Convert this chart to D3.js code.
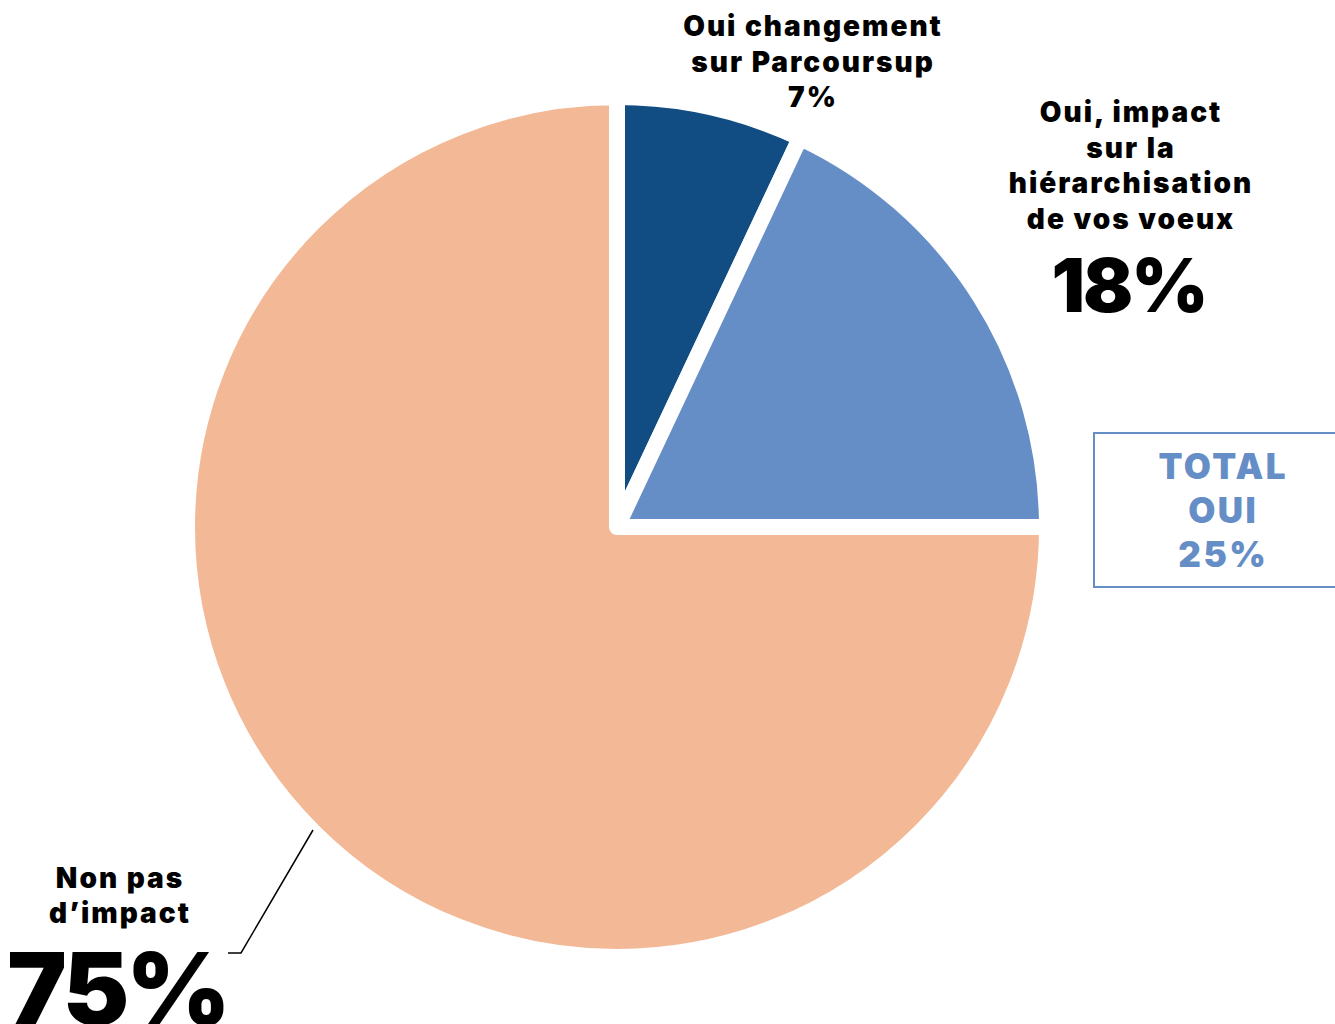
<!DOCTYPE html>
<html>
<head>
<meta charset="utf-8">
<script src="https://cdn.jsdelivr.net/npm/d3@7"></script>
<style>
  body { margin: 0; background: #fff; }
  svg { display: block; }
  text { font-family: Inter, "Noto Sans", sans-serif; font-weight: 900; }
</style>
</head>
<body>
<svg id="chart" width="1335" height="1024"></svg>
<script>
// slices, clockwise from 12 o'clock
var categories = ["Oui changement sur Parcoursup", "Oui, impact sur la hiérarchisation de vos voeux", "Non pas d'impact"]
var values = [7, 18, 75]
var colors = ["#114D82", "#668EC6", "#F3B895"]
var totalOui = 25

var width = 1335, height = 1024
var cx = 617, cy = 527, radius = 430

var svg = d3.select("#chart")

var pie = d3.pie().sort(null).value(function (d) { return d })
var arc = d3.arc().innerRadius(0).outerRadius(radius)

var g = svg.append("g").attr("transform", "translate(" + cx + "," + cy + ")")

g.selectAll("path")
  .data(pie(values))
  .enter()
  .append("path")
  .attr("d", arc)
  .attr("fill", function (d, i) { return colors[i] })
  .attr("stroke", "#fff")
  .attr("stroke-width", 16)
  .attr("stroke-linejoin", "round")

// labels
function block(x, y, lines, size, lh, spacing, color) {
  var t = svg.append("text")
    .attr("x", x).attr("y", y)
    .attr("text-anchor", "middle")
    .attr("fill", color || "#000")
    .style("font-size", size + "px")
    .style("letter-spacing", spacing + "px")
  lines.forEach(function (l, i) {
    // shift by half the trailing spacing so centring stays right
    t.append("tspan").attr("x", x + spacing / 2).attr("dy", i == 0 ? 0 : lh).text(l)
  })
  return t
}

block(812, 36, ["Oui changement", "sur Parcoursup", values[0] + "%"], 28, 35.5, 2)
block(1130, 122, ["Oui, impact", "sur la", "hiérarchisation", "de vos voeux"], 28, 35.5, 2)
block(1130, 312, [values[1] + "%"], 74, 0, -2)

block(119, 888, ["Non pas", "d\u2019impact"], 28, 35, 2)
block(119, 1025, [values[2] + "%"], 100, 0, -3)

// total box
svg.append("rect")
  .attr("x", 1094).attr("y", 433)
  .attr("width", 260).attr("height", 154)
  .attr("fill", "none")
  .attr("stroke", colors[1])
  .attr("stroke-width", 2)
block(1222, 479, ["TOTAL", "OUI", totalOui + "%"], 35, 44, 2.5, colors[1])

// leader line for the big slice
svg.append("path")
  .attr("d", "M313,830 L241,953 L228,953")
  .attr("fill", "none")
  .attr("stroke", "#000")
  .attr("stroke-width", 1.5)
</script>
</body>
</html>
